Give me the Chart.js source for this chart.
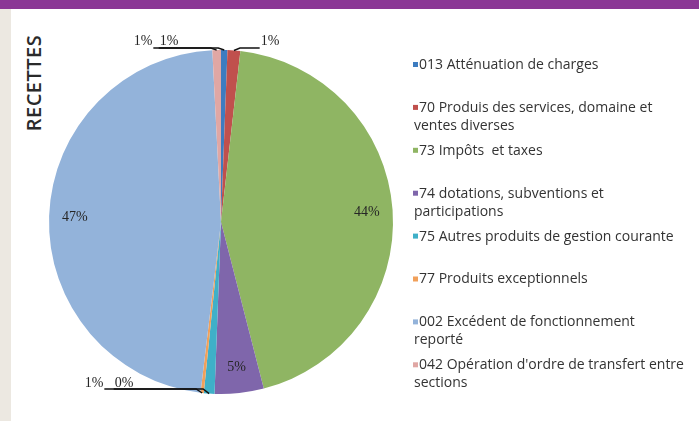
<!DOCTYPE html>
<html>
<head>
<meta charset="utf-8">
<script src="https://cdn.jsdelivr.net/npm/chart.js@4/dist/chart.umd.min.js"></script>
<style>
  html, body { margin: 0; padding: 0; background: #fff; }
  body { width: 699px; height: 421px; position: relative; overflow: hidden; }
  .banner { position: absolute; left: 0; top: 0; width: 699px; height: 9px; background: #8b3795; }
  .strip { position: absolute; left: 0; top: 9px; width: 11px; height: 412px; background: #ece8e1; }
  .title {
    position: absolute; left: 33px; top: 83px; transform: translate(-50%, -50%) rotate(-90deg);
    font: 600 20px "Open Sans", sans-serif; color: #2a2a2a; white-space: nowrap; letter-spacing: 0.5px;
  }
  canvas { position: absolute; left: 0; top: 0; }
</style>
</head>
<body>
<div class="banner"></div>
<div class="strip"></div>
<div class="title">RECETTES</div>
<canvas id="chart" width="699" height="421"></canvas>
<script>
// categories, wrapped as in the legend
const categories = [
  ['013 Atténuation de charges'],
  ['70 Produis des services, domaine et', 'ventes diverses'],
  ['73 Impôts  et taxes'],
  ['74 dotations, subventions et', 'participations'],
  ['75 Autres produits de gestion courante'],
  ['77 Produits exceptionnels'],
  ['002 Excédent de fonctionnement', 'reporté'],
  ["042 Opération d'ordre de transfert entre", 'sections'],
];
// share of receipts, %
const shares = [0.6, 1.2, 44.2, 4.6, 1.0, 0.3, 47.3, 0.8];
const sliceColors = ['#3d7cc0', '#c0504d', '#8fb563', '#7f66ab', '#3fb0c8', '#f1a05a', '#93b3da', '#e0a7a4'];

// small slices get their label outside with a leader line: [x, y, leader from 'left' | 'right']
const outsideLabels = {
  0: [169, 41, 'left'],
  1: [270, 41, 'left'],
  4: [94, 383, 'right'],
  5: [124, 383, 'left'],
  7: [143, 41, 'right'],
};

const pctLabels = {
  id: 'pctLabels',
  afterDatasetsDraw(chart) {
    const ctx = chart.ctx;
    const total = shares.reduce((a, b) => a + b, 0);
    ctx.save();
    ctx.font = '14px "Liberation Serif", serif';
    ctx.fillStyle = '#262626';
    ctx.textAlign = 'center';
    ctx.textBaseline = 'middle';
    chart.getDatasetMeta(0).data.forEach((arc, i) => {
      const text = Math.round(shares[i] / total * 100) + '%';
      const mid = (arc.startAngle + arc.endAngle) / 2;
      if (!outsideLabels[i]) {
        const r = arc.outerRadius * 0.85;
        ctx.fillText(text, arc.x + Math.cos(mid) * r, arc.y + Math.sin(mid) * r);
        return;
      }
      const [lx, ly, side] = outsideLabels[i];
      ctx.fillText(text, lx, ly);
      const w = ctx.measureText(text).width;
      const ax = arc.x + Math.cos(mid) * arc.outerRadius;
      const ay = arc.y + Math.sin(mid) * arc.outerRadius;
      const sx = side === 'left' ? lx - w / 2 - 1 : lx + w / 2 + 1;
      const ux = side === 'left' ? lx + w / 2 : sx;
      const yy = ly + (ly < arc.y ? 7 : 6);
      ctx.beginPath();
      ctx.strokeStyle = '#111';
      ctx.lineWidth = 1.4;
      ctx.moveTo(sx, yy);
      if (ax > sx) {
        ctx.lineTo(Math.max(ux, ax - 6), yy);
      } else {
        ctx.lineTo(Math.min(ux, ax + 6), yy);
      }
      ctx.lineTo(ax, ay);
      ctx.stroke();
    });
    ctx.restore();
  }
};

const sideLegend = {
  id: 'sideLegend',
  afterDraw(chart) {
    const ctx = chart.ctx;
    ctx.save();
    ctx.font = '14px "Open Sans", sans-serif';
    ctx.textBaseline = 'middle';
    ctx.textAlign = 'left';
    chart.data.labels.forEach((lines, i) => {
      const y = 65 + i * 42.9;
      ctx.fillStyle = sliceColors[i];
      ctx.fillRect(413, y - 3, 5, 5);
      ctx.fillStyle = '#333';
      lines.forEach((line, j) => {
        ctx.fillText(line, j === 0 ? 419 : 414, y + j * 18);
      });
    });
    ctx.restore();
  }
};

new Chart(document.getElementById('chart'), {
  type: 'pie',
  data: {
    labels: categories,
    datasets: [{data: shares, backgroundColor: sliceColors, borderWidth: 0}],
  },
  options: {
    responsive: false,
    animation: false,
    devicePixelRatio: 1,
    layout: {padding: {left: 49, right: 306, top: 50, bottom: 27}},
    plugins: {legend: {display: false}, tooltip: {enabled: false}},
  },
  plugins: [pctLabels, sideLegend],
});
</script>
</body>
</html>
